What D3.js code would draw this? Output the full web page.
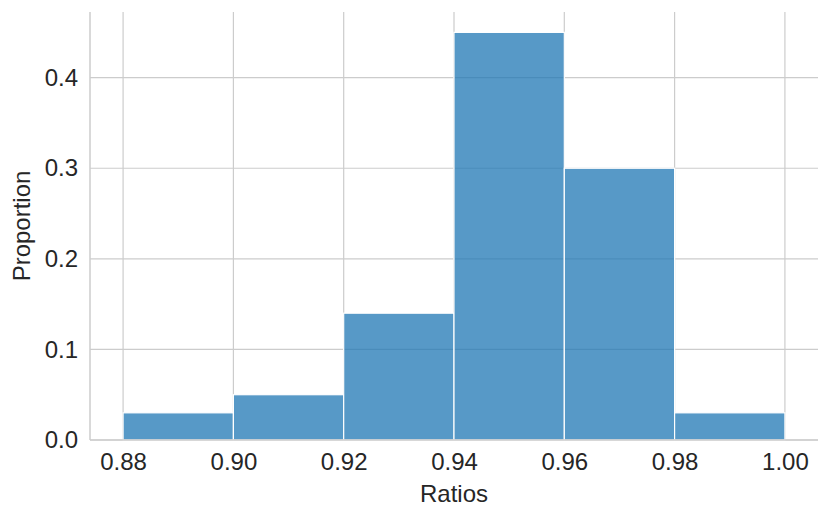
<!DOCTYPE html>
<html><head><meta charset="utf-8">
<script src="https://cdn.jsdelivr.net/npm/d3@7"></script>
<style>body{margin:0;background:#fff}svg{display:block}text{font-family:"Liberation Sans",Arial,sans-serif;fill:#262626}</style>
</head><body><svg id="c" width="830" height="519"></svg>
<script>
const binEdges = [0.88, 0.90, 0.92, 0.94, 0.96, 0.98, 1.00];
const proportions = [0.03, 0.05, 0.14, 0.45, 0.30, 0.03];
const xTicks = [0.88, 0.90, 0.92, 0.94, 0.96, 0.98, 1.00];
const yTicks = [0.0, 0.1, 0.2, 0.3, 0.4];

const svg = d3.select("#c");
const L = 90, R = 818, T = 12, B = 440;
const x = d3.scaleLinear().domain([0.874, 1.006]).range([L, R]);
const y = d3.scaleLinear().domain([0, 0.4725]).range([B, T]);

// grid
svg.append("g").selectAll("line").data(xTicks).join("line")
  .attr("x1", d => x(d)).attr("x2", d => x(d)).attr("y1", T).attr("y2", B)
  .attr("stroke", "#cccccc").attr("stroke-width", 1.2);
svg.append("g").selectAll("line").data(yTicks).join("line")
  .attr("x1", L).attr("x2", R).attr("y1", d => y(d)).attr("y2", d => y(d))
  .attr("stroke", "#cccccc").attr("stroke-width", 1.2);

// bars
const bins = proportions.map((v, i) => ({x0: binEdges[i], x1: binEdges[i + 1], v}));
svg.append("g").selectAll("rect").data(bins).join("rect")
  .attr("x", d => x(d.x0)).attr("width", d => x(d.x1) - x(d.x0))
  .attr("y", d => y(d.v)).attr("height", d => y(0) - y(d.v))
  .attr("fill", "#1f77b4").attr("fill-opacity", 0.75)
  .attr("stroke", "#ffffff").attr("stroke-width", 1.2);

// spines
svg.append("line").attr("x1", L).attr("x2", L).attr("y1", T).attr("y2", B)
  .attr("stroke", "#cccccc").attr("stroke-width", 1.5);
svg.append("line").attr("x1", L).attr("x2", R).attr("y1", B).attr("y2", B)
  .attr("stroke", "#cccccc").attr("stroke-width", 1.5);

// axes labels
const xa = svg.append("g").attr("transform", `translate(0,${B})`)
  .call(d3.axisBottom(x).tickValues(xTicks).tickFormat(d3.format(".2f")).tickSize(0).tickPadding(13));
const ya = svg.append("g").attr("transform", `translate(${L},0)`)
  .call(d3.axisLeft(y).tickValues(yTicks).tickFormat(d3.format(".1f")).tickSize(0).tickPadding(12));
[xa, ya].forEach(a => {
  a.select(".domain").remove();
  a.selectAll("text").attr("font-size", 24).attr("font-family", "Liberation Sans, Arial, sans-serif").attr("fill", "#262626");
});

svg.append("text").attr("x", (L + R) / 2).attr("y", 502).attr("text-anchor", "middle")
  .attr("font-size", 24).text("Ratios");
svg.append("text").attr("transform", `translate(30,${(T + B) / 2}) rotate(-90)`)
  .attr("text-anchor", "middle").attr("font-size", 24).text("Proportion");
</script></body></html>
